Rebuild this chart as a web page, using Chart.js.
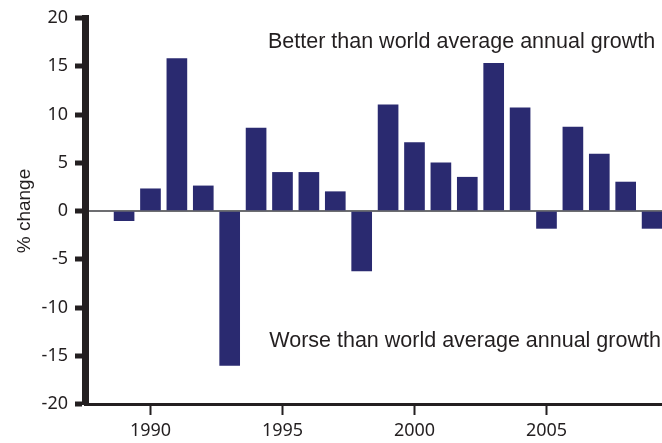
<!DOCTYPE html>
<html>
<head>
<meta charset="utf-8">
<script src="https://cdn.jsdelivr.net/npm/chart.js@4"></script>
<style>
  html, body { margin: 0; padding: 0; background: #fff; }
  #wrap { width: 662px; height: 443px; position: relative; }
</style>
</head>
<body>
<div id="wrap"><canvas id="growthChart"></canvas></div>
<script>
// data
const years = [1989, 1990, 1991, 1992, 1993, 1994, 1995, 1996, 1997, 1998, 1999,
               2000, 2001, 2002, 2003, 2004, 2005, 2006, 2007, 2008, 2009];
const pctChange = [-1.0, 2.3, 15.8, 2.6, -16.0, 8.6, 4.0, 4.0, 2.0, -6.2, 11.0,
                   7.1, 5.0, 3.5, 15.3, 10.7, -1.8, 8.7, 5.9, 3.0, -1.8];
const yearTicks = [1990, 1995, 2000, 2005];
const betterLabel = 'Better than world average annual growth';
const worseLabel = 'Worse than world average annual growth';

const ink = '#231f20';
const barColor = '#2a2a70';

// üìù the two notes inside the plot
const notesPlugin = {
  id: 'notes',
  afterDraw(chart) {
    const { ctx, scales: { x, y } } = chart;
    ctx.save();
    ctx.font = '21.5px "Liberation Sans", Arial, sans-serif';
    ctx.fillStyle = ink;
    ctx.textAlign = 'left';
    ctx.textBaseline = 'middle';
    ctx.fillText(betterLabel, x.getPixelForValue(1994.45), y.getPixelForValue(17.5));
    ctx.fillText(worseLabel, x.getPixelForValue(1994.5), y.getPixelForValue(-13.5));
    ctx.restore();
  }
};

// üìä Bar Chart: % change by year
const ctx = document.getElementById('growthChart');
new Chart(ctx, {
  type: 'bar',
  data: {
    datasets: [{
      label: '% change',
      data: years.map((yr, i) => ({ x: yr, y: pctChange[i] })),
      backgroundColor: barColor,
      barThickness: 20
    }]
  },
  options: {
    responsive: true,
    maintainAspectRatio: false,
    animation: false,
    layout: { padding: { top: 18, left: 0, right: 0, bottom: 0 } },
    plugins: {
      legend: { display: false },
      tooltip: { enabled: false }
    },
    scales: {
      x: {
        type: 'linear',
        offset: false,
        min: 1987.52,
        max: 2009.375,
        afterBuildTicks: scale => { scale.ticks = yearTicks.map(v => ({ value: v })); },
        afterFit: scale => { scale.height = 39; },
        border: { display: true, width: 3, color: ink },
        grid: { offset: false, drawOnChartArea: false, tickLength: 11, tickWidth: 2, tickColor: ink },
        ticks: {
          color: ink,
          padding: 5,
          font: { family: '"Noto Sans", sans-serif', size: 18 },
          callback: v => String(v)
        }
      },
      y: {
        min: -20,
        max: 20,
        afterFit: scale => { scale.width = 85; },
        border: { display: true, width: 7, color: ink },
        grid: {
          drawOnChartArea: true,
          color: c => (c.tick && c.tick.value === 0 ? '#6d6e71' : 'rgba(0,0,0,0)'),
          lineWidth: 2,
          tickLength: 10,
          tickWidth: 5,
          tickColor: ink
        },
        ticks: {
          stepSize: 5,
          color: ink,
          padding: 7,
          font: { family: '"Noto Sans", sans-serif', size: 18 }
        },
        title: {
          display: true,
          text: '% change',
          color: ink,
          padding: { top: 13, bottom: 0 },
          font: { family: '"Liberation Sans", Arial, sans-serif', size: 19 }
        }
      }
    }
  },
  plugins: [notesPlugin]
});
</script>
</body>
</html>
